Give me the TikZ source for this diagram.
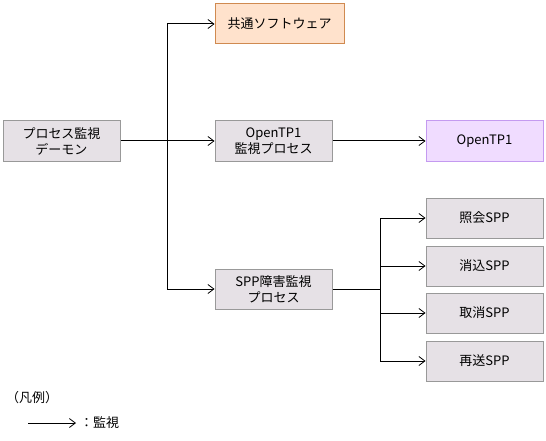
\documentclass[tikz,border=0pt]{standalone}
\usepackage{fontspec}
\setmainfont{Noto Sans CJK JP}
\usetikzlibrary{arrows.meta}
\definecolor{boxfill}{HTML}{E6E1E6}
\definecolor{boxline}{HTML}{999999}
\definecolor{orfill}{HTML}{FFE2CC}
\definecolor{orline}{HTML}{D08A50}
\definecolor{pufill}{HTML}{F0DCFF}
\definecolor{puline}{HTML}{C49AF0}
\tikzset{
  box/.style={draw=boxline, fill=boxfill, line width=1pt, minimum width=117pt, minimum height=40pt, align=center, inner sep=0pt, font=\fontsize{13}{16}\selectfont},
  orbox/.style={box, draw=orline, fill=orfill, minimum width=129pt},
  pubox/.style={box, draw=puline, fill=pufill},
  arr/.style={line width=1pt, -{Straight Barb[length=6pt,width=9pt,line width=0.8pt]}},
  ln/.style={line width=1pt},
  lbl/.style={inner sep=0pt, font=\fontsize{13}{16}\selectfont}
}
\begin{document}
\begin{tikzpicture}[x=1pt,y=-1pt]
\useasboundingbox (0,0) rectangle (546,441);
\node[box] (d) at (61.5,141) {プロセス監視\\デーモン};
\node[orbox] (k) at (279.5,24) {共通ソフトウェア};
\node[box] (om) at (273.5,141) {OpenTP1\\監視プロセス};
\node[pubox] (tp) at (484.5,141) {OpenTP1};
\node[box] (sp) at (273.5,289) {SPP障害監視\\プロセス};
\node[box] (c1) at (484.5,218) {照会SPP};
\node[box] (c2) at (484.5,266) {消込SPP};
\node[box] (c3) at (484.5,313) {取消SPP};
\node[box] (c4) at (484.5,361) {再送SPP};
\coordinate (b1) at (167,141);
\coordinate (b2) at (380,289);
\draw[arr] (d.east) -- (om.west);
\draw[arr] (b1) |- (k.west);
\draw[arr] (b1) |- (sp.west);
\draw[arr] (om.east) -- (tp.west);
\draw[ln] (sp.east) -- (b2);
\draw[arr] (b2) |- (c1.west);
\draw[arr] (b2) |- (c2.west);
\draw[arr] (b2) |- (c3.west);
\draw[arr] (b2) |- (c4.west);
\node[lbl, anchor=west] (lg) at (6,398) {（凡例）};
\coordinate (l1) at (28,423);
\coordinate (l2) at (76,423);
\draw[arr] (l1) -- (l2);
\node[lbl, anchor=west] (lt) at (80,423) {：監視};
\end{tikzpicture}
\end{document}
